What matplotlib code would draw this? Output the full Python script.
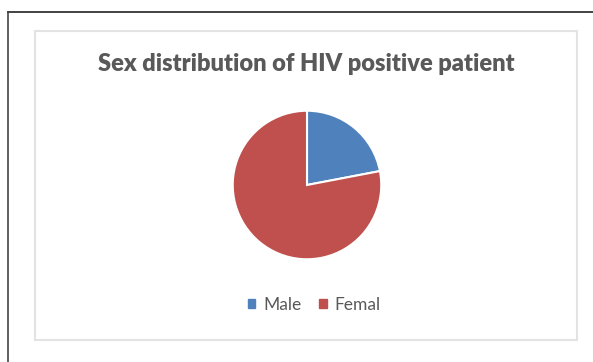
import matplotlib.pyplot as plt
from matplotlib.patches import Rectangle
from matplotlib.lines import Line2D

labels = ["Male", "Femal"]
values = [22, 78]
colors = ["#4F81BD", "#C0504D"]

W, H = 593, 362
fig = plt.figure(figsize=(W / 100, H / 100), dpi=100)

# outer page frame (top and left edges only)
fig.add_artist(Line2D([8 / W, 1], [1 - 12 / H, 1 - 12 / H], color="#222222", lw=1.2))
fig.add_artist(Line2D([8 / W, 8 / W], [0, 1 - 12 / H], color="#444444", lw=1.2))

# chart area border
fig.add_artist(Rectangle((35 / W, 1 - 340 / H), 542 / W, 309 / H, fill=False,
                         edgecolor="#E3E3E3", lw=1.5))

fig.text(306 / W, 1 - 64 / H, "Sex distribution of HIV positive patient",
         ha="center", va="center", fontsize=17, fontweight="heavy",
         color="#595959", family="Lato")

cx, cy, r = 307, 185, 75
ax = fig.add_axes([(cx - r) / W, 1 - (cy + r) / H, 2 * r / W, 2 * r / H])
ax.pie(values, colors=colors, startangle=90, counterclock=False,
       wedgeprops=dict(edgecolor="white", linewidth=1.5))
ax.set_xlim(-1.01, 1.01)
ax.set_ylim(-1.01, 1.01)
ax.set_aspect("equal")

handles = [Rectangle((0, 0), 1, 1, color=c) for c in colors]
fig.legend(handles, labels, loc="center", bbox_to_anchor=(314 / W, 1 - 305 / H),
           ncol=2, frameon=False, handlelength=0.45, handleheight=0.45,
           handletextpad=0.45, columnspacing=1.0,
           prop=dict(family="Lato", size=12.5), labelcolor="#595959")

fig.savefig("out.png", dpi=100)
